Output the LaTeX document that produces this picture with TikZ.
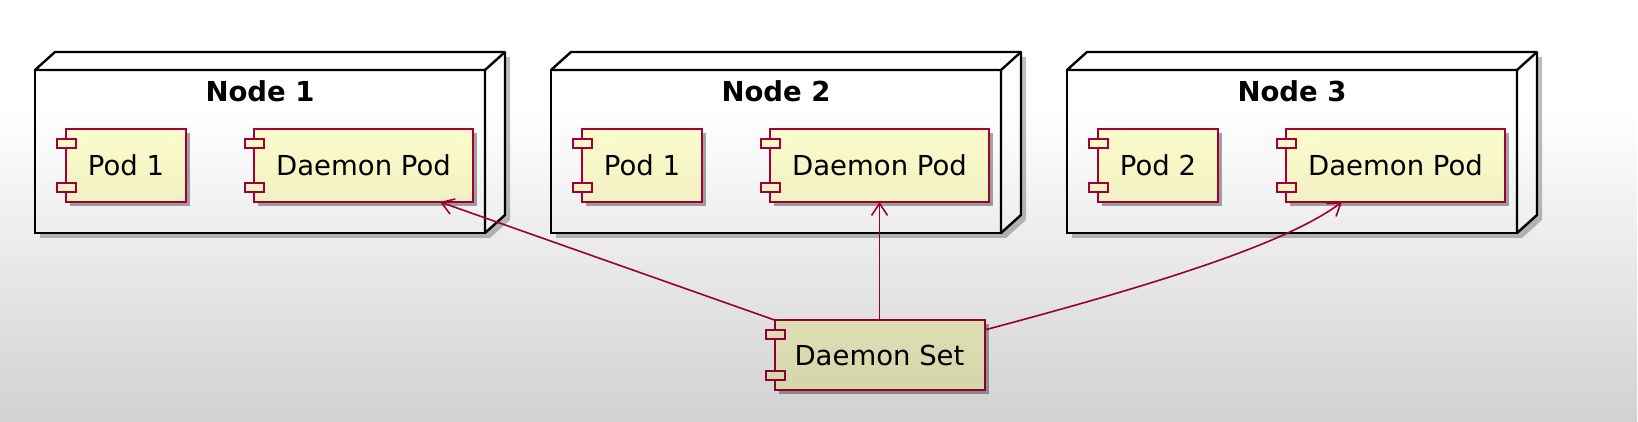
\documentclass[tikz,border=0pt]{standalone}
\usepackage{fontspec}
\setmainfont{DejaVu Sans}
\usetikzlibrary{calc,shadows,fadings,arrows.meta}
\definecolor{umlred}{HTML}{A80036}
\definecolor{umlfill}{HTML}{FEFECE}
\tikzfading[name=vign, top color=transparent!100, bottom color=transparent!0]
\pgfdeclarelayer{back}
\pgfdeclarelayer{shade}
\pgfdeclarelayer{top}
\pgfsetlayers{back,shade,main,top}
\begin{document}
\begin{tikzpicture}[x=0.5pt,y=-0.5pt,
  comp/.style={draw=umlred, fill=umlfill, line width=1pt, minimum height=36.5pt, inner sep=0pt, outer sep=0pt,
    font=\fontsize{13.75}{16}\selectfont,
    drop shadow={shadow xshift=2.2pt, shadow yshift=-2.2pt, opacity=0.35, fill=black}},
  tab/.style={draw=umlred, fill=umlfill, line width=1pt},
  nodebox/.style={draw=black, fill=white, line width=1.2pt, minimum width=225pt, minimum height=81.5pt, inner sep=0pt, outer sep=0pt},
  nodeline/.style={draw=black, fill=white, line width=1.2pt, line join=round},
  title/.style={font=\bfseries\fontsize{13.75}{16}\selectfont, anchor=base, inner sep=0pt},
  arr/.style={draw=umlred, line width=0.8pt, -{Straight Barb[length=6pt,width=8pt]}}]
\useasboundingbox (0,0) rectangle (1638,422);
\begin{pgfonlayer}{back}
\fill[white] (0,0) rectangle (1638,422);
\end{pgfonlayer}
\foreach \i/\cx/\pn in {1/260/Pod 1, 2/776/Pod 1, 3/1292/Pod 2} {
  \node[nodebox] (n\i) at (\cx,151.5) {};
  \draw[nodeline] (n\i.north west) -- ++(20,-18) -- ($(n\i.north east)+(20,-18)$)
     -- ($(n\i.south east)+(20,-18)$) -- (n\i.south east) -- (n\i.north east) -- cycle;
  \draw[nodeline] (n\i.north east) -- ++(20,-18);
  \begin{pgfonlayer}{shade}
  \fill[black, opacity=0.25] ($(n\i.north west)+(5,5)$) -- ++(20,-18) -- ($(n\i.north east)+(25,-13)$)
     -- ($(n\i.south east)+(25,-13)$) -- ($(n\i.south east)+(5,5)$) -- ($(n\i.south west)+(5,5)$) -- cycle;
  \end{pgfonlayer}
  \node[title] (t\i) at ($(n\i.north)+(0,32)$) {Node \i};
  \node[comp, minimum width=60pt] (p\i) at ($(n\i.center)+(-134,14)$) {\pn};
  \node[comp, minimum width=109.5pt] (dp\i) at ($(n\i.center)+(103.5,14)$) {Daemon Pod};
}
\node[comp, minimum width=105pt, minimum height=35pt] (ds) at (879.5,355) {Daemon Set};
\foreach \c in {p1,dp1,p2,dp2,p3,dp3,ds} {
  \draw[tab] ($(\c.north west)+(-9,10)$) rectangle ++(19,9);
  \draw[tab] ($(\c.south west)+(-9,-19)$) rectangle ++(19,9);
}
\draw[arr] (ds.north west) -- ($(dp1.south west)+(186,0)$);
\draw[arr] (ds.north) -- (dp2.south);
\draw[arr] ($(ds.north east)+(0,10)$) .. controls +(150,-40) and +(-60,45) .. ($(dp3.south west)+(56,0)$);
\begin{pgfonlayer}{top}
\fill[black, fill opacity=0.18, path fading=vign] (0,110) rectangle (1638,422);
\end{pgfonlayer}
\end{tikzpicture}
\end{document}
